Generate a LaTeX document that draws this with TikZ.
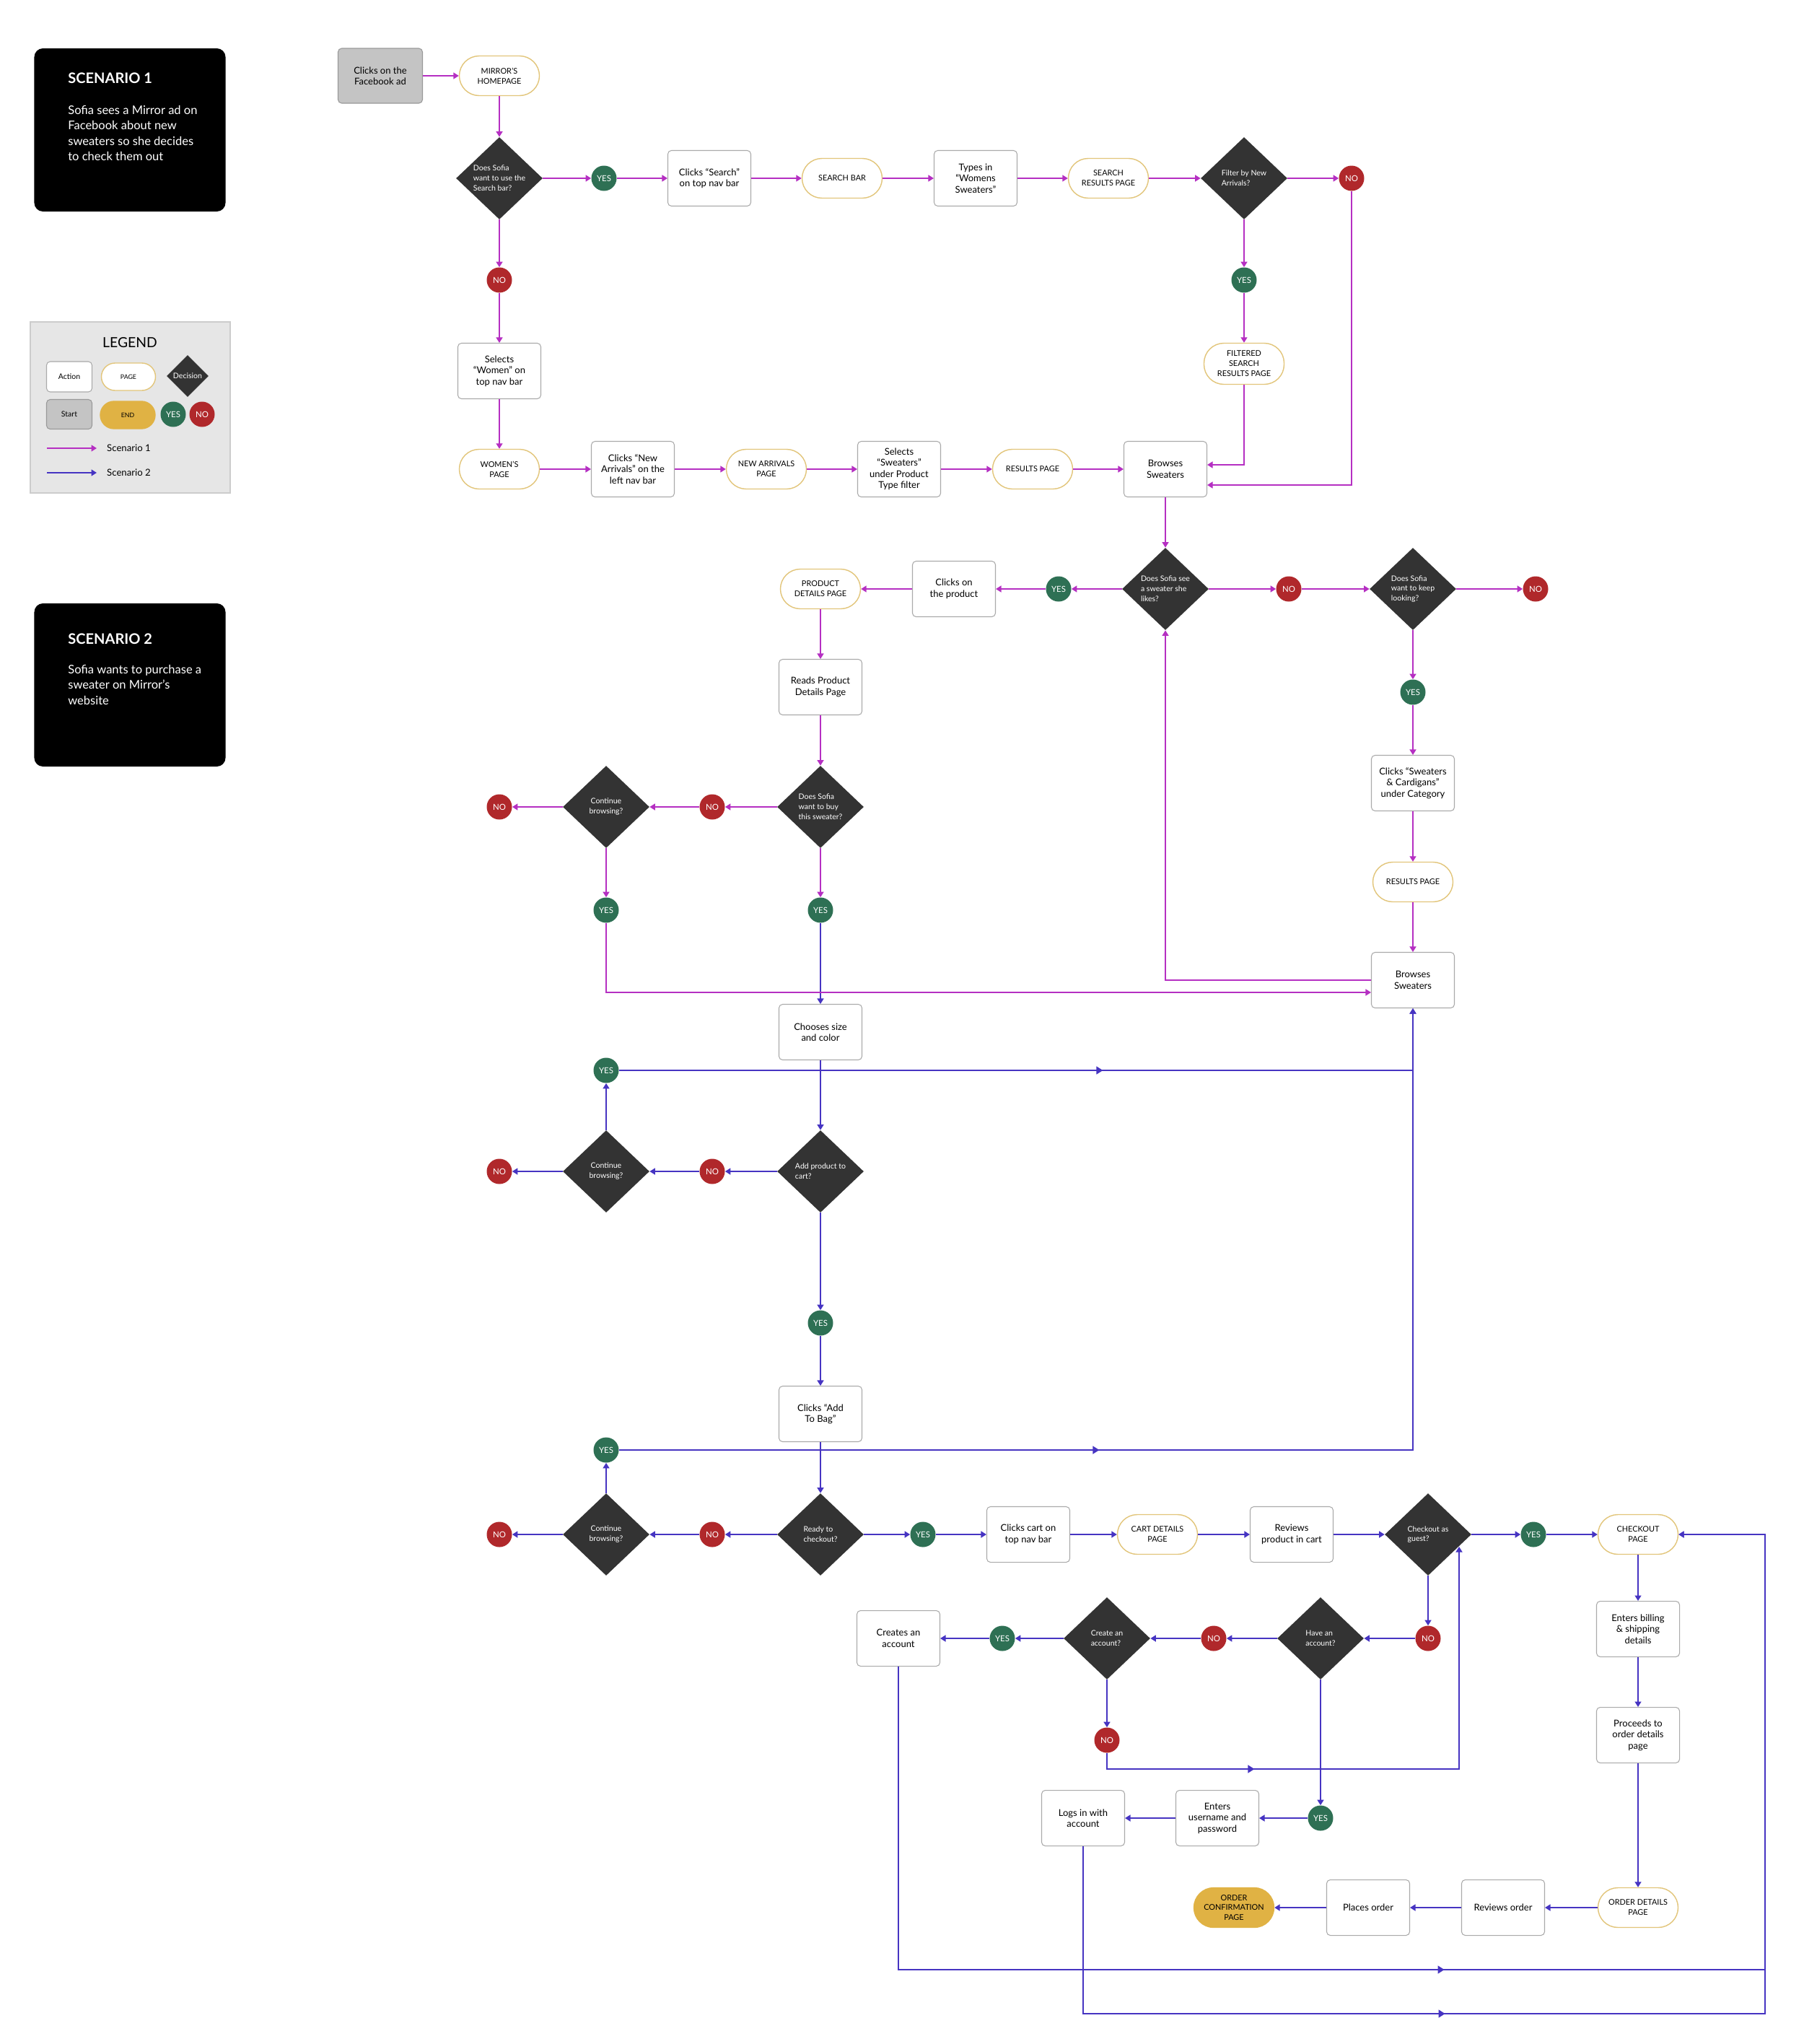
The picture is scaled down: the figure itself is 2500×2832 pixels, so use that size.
\documentclass[tikz,border=0pt]{standalone}
\usepackage{fontspec}
\setmainfont{Lato}
\usetikzlibrary{positioning, shapes.geometric, arrows.meta, decorations.markings}

\definecolor{sOne}{HTML}{B52FC2}
\definecolor{sTwo}{HTML}{4634C2}
\definecolor{yesGreen}{HTML}{2E7054}
\definecolor{noRed}{HTML}{B0282B}
\definecolor{decGrey}{HTML}{333333}
\definecolor{pageGold}{HTML}{E2C57A}
\definecolor{endGold}{HTML}{E0B244}
\definecolor{boxGrey}{HTML}{AAAAAA}
\definecolor{startGrey}{HTML}{C4C4C4}
\definecolor{legendGrey}{HTML}{E6E6E6}

\begin{document}
\begin{tikzpicture}[
    x=0.2mm, y=-0.2mm,
    % Define styles for the node types
    act_box/.style={rectangle, rounded corners=1mm, draw=boxGrey, line width=0.6pt, fill=white, minimum width=23mm, minimum height=15.4mm, align=center, inner sep=1pt, font=\fontsize{7.4}{8.8}\selectfont},
    start_box/.style={act_box, fill=startGrey, draw=black!40, minimum width=23.4mm, minimum height=15.2mm},
    page_box/.style={rectangle, rounded corners=5.5mm, draw=pageGold, line width=0.8pt, fill=white, minimum width=22.2mm, minimum height=11mm, align=center, inner sep=1pt, font=\fontsize{6.2}{7.9}\selectfont},
    end_box/.style={page_box, fill=endGold, draw=endGold},
    dec_box/.style={diamond, fill=decGrey, text=white, minimum width=24mm, minimum height=22.8mm, inner sep=0pt, align=left, font=\fontsize{6}{7.9}\selectfont},
    yes_dot/.style={circle, fill=yesGreen, text=white, minimum size=7mm, inner sep=0pt, font=\fontsize{6.5}{7}\selectfont},
    no_dot/.style={yes_dot, fill=noRed},
    scen_box/.style={rectangle, rounded corners=2.4mm, fill=black, minimum width=53mm, minimum height=45.2mm},
    scen_title/.style={text=white, inner sep=0pt, font=\bfseries\fontsize{11.4}{13}\selectfont},
    scen_text/.style={text=white, inner sep=0pt, align=left, font=\fontsize{9.4}{12.2}\selectfont},
    legend_box/.style={rectangle, fill=legendGrey, draw=black!20, line width=0.8pt, minimum width=55.4mm, minimum height=47.4mm},
    % Define edge styles
    edge_one/.style={color=sOne, line width=0.9pt, -{Triangle[length=1.5mm, width=1.8mm]}},
    edge_two/.style={edge_one, color=sTwo},
    mid_arrow/.style={postaction={decorate}, decoration={markings, mark=at position #1 with {\arrow{Triangle[length=1.8mm, width=2.2mm]}}}}
]

    \path[use as bounding box, fill=white] (0,0) rectangle (2500,2832);

    % --- Scenario cards ---
    \node[scen_box] (sc1) at (180,180) {};
    \node[scen_title, anchor=west] (sc1_title) at (94,108) {SCENARIO 1};
    \node[scen_text, anchor=north west] (sc1_text) at (94,146) {Sofia sees a Mirror ad on\\Facebook about new\\sweaters so she decides\\to check them out};
    \node[scen_box] (sc2) at (180,949) {};
    \node[scen_title, anchor=west] (sc2_title) at (94,885) {SCENARIO 2};
    \node[scen_text, anchor=north west] (sc2_text) at (94,921) {Sofia wants to purchase a\\sweater on Mirror’s\\website};

    % --- Legend ---
    \node[legend_box] (legend) at (180.5,564.5) {};
    \node[font=\fontsize{11}{13}\selectfont] (lg_title) at (180,475) {LEGEND};
    \node[act_box, minimum width=12.6mm, minimum height=8.4mm, font=\fontsize{6}{7}\selectfont] (lg_act) at (96,522) {Action};
    \node[page_box, minimum width=15mm, minimum height=7.6mm, rounded corners=3.8mm, font=\fontsize{5}{6}\selectfont] (lg_page) at (178,522) {PAGE};
    \node[dec_box, minimum width=11.6mm, minimum height=11.6mm, align=center] (lg_dec) at (260,521) {Decision};
    \node[start_box, minimum width=12.6mm, minimum height=8.2mm, font=\fontsize{6}{7}\selectfont] (lg_start) at (96,574) {Start};
    \node[end_box, minimum width=15.2mm, minimum height=7.6mm, rounded corners=3.8mm, font=\fontsize{5}{6}\selectfont] (lg_end) at (177,575) {END};
    \node[yes_dot] (lg_yes) at (240,574) {YES};
    \node[no_dot] (lg_no) at (280,574) {NO};
    \coordinate (lg_s1a) at (65,621);
    \coordinate (lg_s1b) at (134,621);
    \coordinate (lg_s2a) at (65,655);
    \coordinate (lg_s2b) at (134,655);
    \draw[edge_one] (lg_s1a) -- (lg_s1b);
    \draw[edge_two] (lg_s2a) -- (lg_s2b);
    \node[anchor=west, font=\fontsize{7.5}{9}\selectfont] (lg_s1_txt) at (142,621) {Scenario 1};
    \node[anchor=west, font=\fontsize{7.5}{9}\selectfont] (lg_s2_txt) at (142,655) {Scenario 2};

    % ================= SCENARIO 1 =================
    % Search bar branch
    \node[start_box] (fb_ad) at (527,105) {Clicks on the\\Facebook ad};
    \node[page_box] (home) at (692,105) {MIRROR’S\\HOMEPAGE};
    \node[dec_box] (q_search) at (692,247) {Does Sofia\\want to use the\\Search bar?};
    \node[yes_dot] (y_search) at (837,247) {YES};
    \node[act_box] (click_search) at (983,247) {Clicks “Search”\\on top nav bar};
    \node[page_box] (search_bar) at (1167,247) {SEARCH BAR};
    \node[act_box] (types) at (1352,247) {Types in\\“Womens\\Sweaters”};
    \node[page_box] (search_res) at (1536,247) {SEARCH\\RESULTS PAGE};
    \node[dec_box] (q_filter) at (1724,247) {Filter by New\\Arrivals?};
    \node[no_dot] (n_filter) at (1873,247) {NO};
    \node[yes_dot] (y_filter) at (1724,388) {YES};
    \node[page_box, minimum height=11.4mm] (filtered) at (1724,504) {FILTERED\\SEARCH\\RESULTS PAGE};

    % Navigation branch
    \node[no_dot] (n_search) at (692,388) {NO};
    \node[act_box] (sel_women) at (692,514) {Selects\\“Women” on\\top nav bar};
    \node[page_box] (women_pg) at (692,650) {WOMEN’S\\PAGE};
    \node[act_box] (new_arr) at (877,650) {Clicks “New\\Arrivals” on the\\left nav bar};
    \node[page_box] (new_arr_pg) at (1062,650) {NEW ARRIVALS\\PAGE};
    \node[act_box] (sel_sweat) at (1246,650) {Selects\\“Sweaters”\\under Product\\Type filter};
    \node[page_box] (res_pg) at (1431,650) {RESULTS PAGE};
    \node[act_box] (browse) at (1615,650) {Browses\\Sweaters};

    % Product decisions
    \node[dec_box] (q_like) at (1615,816) {Does Sofia see\\a sweater she\\likes?};
    \node[yes_dot] (y_like) at (1467,816) {YES};
    \node[act_box] (click_prod) at (1322,816) {Clicks on\\the product};
    \node[page_box] (prod_pg) at (1137,816) {PRODUCT\\DETAILS PAGE};
    \node[no_dot] (n_like) at (1786,816) {NO};
    \node[dec_box] (q_keep) at (1958,816) {Does Sofia\\want to keep\\looking?};
    \node[no_dot] (n_keep) at (2128,816) {NO};
    \node[yes_dot] (y_keep) at (1958,959) {YES};
    \node[act_box] (sweat_cat) at (1958,1085) {Clicks “Sweaters\\\& Cardigans”\\under Category};
    \node[page_box] (res_pg2) at (1958,1222) {RESULTS PAGE};
    \node[act_box] (browse2) at (1958,1358) {Browses\\Sweaters};
    \node[act_box] (read_prod) at (1137,952) {Reads Product\\Details Page};
    \node[dec_box] (q_buy) at (1137,1118) {Does Sofia\\want to buy\\this sweater?};
    \node[no_dot] (n_buy) at (987,1118) {NO};
    \node[dec_box, align=center] (q_cont1) at (840,1118) {Continue\\browsing?};
    \node[no_dot] (n_cont1) at (692,1118) {NO};
    \node[yes_dot] (y_cont1) at (840,1261) {YES};
    \node[yes_dot] (y_buy) at (1137,1261) {YES};

    % ================= SCENARIO 2 =================
    \node[act_box] (choose) at (1137,1430) {Chooses size\\and color};
    \node[dec_box] (q_cart) at (1137,1623) {Add product to\\cart?};
    \node[no_dot] (n_cart) at (987,1623) {NO};
    \node[dec_box, align=center] (q_cont2) at (840,1623) {Continue\\browsing?};
    \node[no_dot] (n_cont2) at (692,1623) {NO};
    \node[yes_dot] (y_cont2) at (840,1483) {YES};
    \node[yes_dot] (y_cart) at (1137,1833) {YES};
    \node[act_box] (add_bag) at (1137,1959) {Clicks “Add\\To Bag”};
    \node[dec_box] (q_ready) at (1137,2126) {Ready to\\checkout?};
    \node[no_dot] (n_ready) at (987,2126) {NO};
    \node[dec_box, align=center] (q_cont3) at (840,2126) {Continue\\browsing?};
    \node[no_dot] (n_cont3) at (692,2126) {NO};
    \node[yes_dot] (y_cont3) at (840,2009) {YES};
    \node[yes_dot] (y_ready) at (1279,2126) {YES};
    \node[act_box] (click_cart) at (1425,2126) {Clicks cart on\\top nav bar};
    \node[page_box] (cart_pg) at (1604,2126) {CART DETAILS\\PAGE};
    \node[act_box] (rev_cart) at (1790,2126) {Reviews\\product in cart};
    \node[dec_box] (q_guest) at (1979,2126) {Checkout as\\guest?};
    \node[yes_dot] (y_guest) at (2125,2126) {YES};
    \node[page_box] (checkout_pg) at (2270,2126) {CHECKOUT\\PAGE};

    % Account branch
    \node[no_dot] (n_guest) at (1979,2270) {NO};
    \node[dec_box] (q_have) at (1830,2270) {Have an\\account?};
    \node[no_dot] (n_have) at (1682,2270) {NO};
    \node[dec_box] (q_create) at (1534,2270) {Create an\\account?};
    \node[yes_dot] (y_create) at (1389,2270) {YES};
    \node[act_box] (creates) at (1245,2270) {Creates an\\account};
    \node[no_dot] (n_create) at (1534,2411) {NO};
    \node[yes_dot] (y_have) at (1830,2519) {YES};
    \node[act_box] (enters) at (1687,2519) {Enters\\username and\\password};
    \node[act_box] (logs) at (1501,2519) {Logs in with\\account};

    % Checkout column
    \node[act_box] (billing) at (2270,2257) {Enters billing\\\& shipping\\details};
    \node[act_box] (proceeds) at (2270,2404) {Proceeds to\\order details\\page};
    \node[page_box] (order_pg) at (2270,2643) {ORDER DETAILS\\PAGE};
    \node[act_box] (rev_order) at (2083,2643) {Reviews order};
    \node[act_box] (places) at (1896,2643) {Places order};
    \node[end_box] (confirm) at (1710,2643) {ORDER\\CONFIRMATION\\PAGE};

    % --- Straight connections ---
    \foreach \a/\b in {fb_ad/home, home/q_search, q_search/y_search, y_search/click_search,
        click_search/search_bar, search_bar/types, types/search_res, search_res/q_filter,
        q_filter/n_filter, q_filter/y_filter, y_filter/filtered, q_search/n_search,
        n_search/sel_women, sel_women/women_pg, women_pg/new_arr, new_arr/new_arr_pg,
        new_arr_pg/sel_sweat, sel_sweat/res_pg, res_pg/browse, browse/q_like,
        q_like/y_like, y_like/click_prod, click_prod/prod_pg, prod_pg/read_prod,
        read_prod/q_buy, q_like/n_like, n_like/q_keep, q_keep/n_keep, q_keep/y_keep,
        y_keep/sweat_cat, sweat_cat/res_pg2, res_pg2/browse2, q_buy/n_buy,
        n_buy/q_cont1, q_cont1/n_cont1, q_cont1/y_cont1, q_buy/y_buy}
        \draw[edge_one] (\a) -- (\b);

    \foreach \a/\b in {y_buy/choose, choose/q_cart, q_cart/n_cart, n_cart/q_cont2,
        q_cont2/n_cont2, q_cont2/y_cont2, q_cart/y_cart, y_cart/add_bag, add_bag/q_ready,
        q_ready/n_ready, n_ready/q_cont3, q_cont3/n_cont3, q_cont3/y_cont3,
        q_ready/y_ready, y_ready/click_cart, click_cart/cart_pg, cart_pg/rev_cart,
        rev_cart/q_guest, q_guest/y_guest, y_guest/checkout_pg, q_guest/n_guest,
        n_guest/q_have, q_have/n_have, n_have/q_create, q_create/y_create,
        y_create/creates, q_create/n_create, q_have/y_have, y_have/enters, enters/logs,
        checkout_pg/billing, billing/proceeds, proceeds/order_pg, order_pg/rev_order,
        rev_order/places, places/confirm}
        \draw[edge_two] (\a) -- (\b);

    % --- Loops back ---
    \draw[edge_one] (filtered) |- ([yshift=1.2mm]browse.east);
    \draw[edge_one] (n_filter) |- ([yshift=-4.4mm]browse.east);
    \draw[edge_one] (y_cont1) |- ([yshift=-3.4mm]browse2.west);
    \draw[edge_one] (browse2) -| (q_like);

    \draw[edge_two, mid_arrow=134.1mm] (y_cont2) -| (browse2);
    \draw[edge_two, mid_arrow=133.1mm] (y_cont3) -| (browse2);

    \coordinate (g_turn) at (2022,2451);
    \coordinate (g_in) at (2022,2143);
    \draw[edge_two, mid_arrow=45.3mm] (n_create) |- (g_turn) -- (g_in);

    \coordinate (r_low) at (2446,2729);
    \coordinate (r_bot) at (2446,2790);
    \coordinate (r_top) at (2446,2126);
    \draw[edge_two, mid_arrow=235.3mm] (creates) |- (r_low) -- (r_top) -- (checkout_pg.east);
    \draw[edge_two, mid_arrow=146.7mm] (logs) |- (r_bot) -- (r_top) -- (checkout_pg.east);

\end{tikzpicture}
\end{document}
